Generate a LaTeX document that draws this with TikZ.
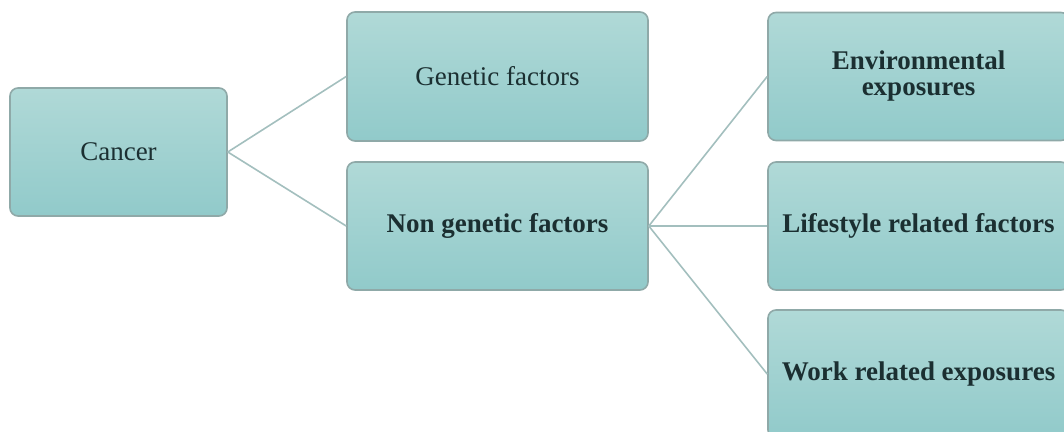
\documentclass[tikz,border=0pt]{standalone}
\usepackage{fontspec}
\setmainfont{Liberation Serif}
\usepackage{tikz}

\definecolor{boxtop}{HTML}{B0D9D7}
\definecolor{boxbot}{HTML}{91CACA}
\definecolor{boxline}{HTML}{8FA9A8}
\definecolor{linkc}{HTML}{A3BFBE}
\definecolor{textc}{HTML}{1B2F31}

\begin{document}
\begin{tikzpicture}[x=0.5pt, y=-0.5pt,
	every node/.style={font=\fontsize{13.5}{13}\selectfont, text=textc},
	factor/.style={draw=boxline, line width=0.8pt, rounded corners=4pt, top color=boxtop, bottom color=boxbot, align=center, inner sep=2pt},
	link/.style={draw=linkc, line width=0.8pt}]
	\useasboundingbox (0,0) rectangle (1064,432);
	\node[factor, minimum width=108.5pt, minimum height=64pt] (cancer) at (118.5,152) {Cancer};
	\node[factor, minimum width=150.5pt, minimum height=64.5pt] (gen) at (497.5,76.5) {Genetic factors};
	\node[factor, minimum width=150.5pt, minimum height=64pt, font=\fontsize{13.5}{13}\selectfont\bfseries] (nongen) at (497.5,226) {Non genetic factors};
	\foreach \name/\y/\txt in {env/76.5/{Environmental\\exposures}, life/226/{Lifestyle related factors}, work/374/{Work related exposures}} {
		\node[factor, minimum width=150.5pt, minimum height=64pt, font=\fontsize{13.5}{13}\selectfont\bfseries] (\name) at (918.5,\y) {\txt};
	}
	\draw[link] (cancer.east) -- (gen.west);
	\draw[link] (cancer.east) -- (nongen.west);
	\foreach \name in {env,life,work}
		\draw[link] (nongen.east) -- (\name.west);
\end{tikzpicture}
\end{document}
